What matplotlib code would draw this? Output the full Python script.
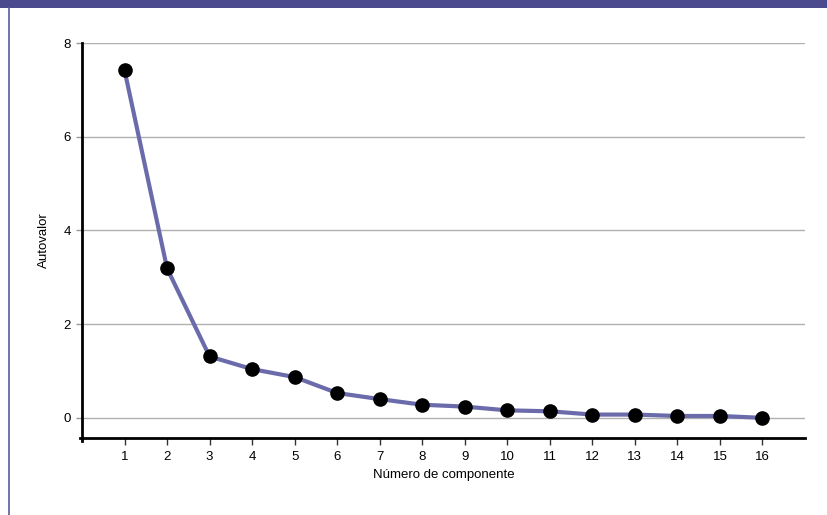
import matplotlib
matplotlib.use("Agg")
import matplotlib.pyplot as plt
from matplotlib.patches import Rectangle
from matplotlib.lines import Line2D

plt.rcParams['font.family'] = ['Liberation Sans', 'DejaVu Sans']

componentes = list(range(1, 17))
autovalores = [7.42, 3.19, 1.31, 1.04, 0.87, 0.53, 0.40, 0.28, 0.24, 0.16,
               0.14, 0.07, 0.07, 0.04, 0.04, 0.00]
y_ticks = [0, 2, 4, 6, 8]

W, H = 827, 515
fig = plt.figure(figsize=(W / 100, H / 100), dpi=100)

# header band and left rule
fig.patches.append(Rectangle((0, 1 - 8 / H), 1, 8 / H, transform=fig.transFigure,
                             facecolor='#4b4a8f', edgecolor='none', zorder=0))
fig.lines.append(Line2D([8.5 / W, 8.5 / W], [0, 1 - 8 / H], transform=fig.transFigure,
                        color='#5a5aa0', linewidth=1.2))

ax = fig.add_axes([82 / W, 1 - 438 / H, (805 - 82) / W, (438 - 43) / H])
ax.set_xlim(0, 17)
ax.set_ylim(-0.43, 8)

ax.grid(axis='y', color='#b0b0b0', linewidth=1.0)
ax.set_axisbelow(True)
ax.set_yticks(y_ticks)
ax.set_xticks(componentes)

ax.plot(componentes, autovalores, color='#6b6bab', linewidth=3.0, zorder=3,
        solid_capstyle='round')
ax.plot(componentes, autovalores, linestyle='none', marker='o', markersize=9.5,
        color='black', zorder=4)

for side in ('top', 'right'):
    ax.spines[side].set_visible(False)
ax.spines['left'].set_linewidth(2)
ax.spines['bottom'].set_linewidth(2)
ax.spines['left'].set_bounds(-0.5, 8)
ax.spines['bottom'].set_bounds(-0.05, 17)

ax.tick_params(axis='y', length=4, width=1, color='#999999', labelsize=9.5, pad=4)
ax.tick_params(axis='x', length=5, width=1, color='#333333', labelsize=9.5, pad=4)

ax.set_xlabel('Número de componente', fontsize=9.5, labelpad=5)
ax.set_ylabel('Autovalor', fontsize=9.5, labelpad=10)

fig.savefig('out.png', dpi=100)
